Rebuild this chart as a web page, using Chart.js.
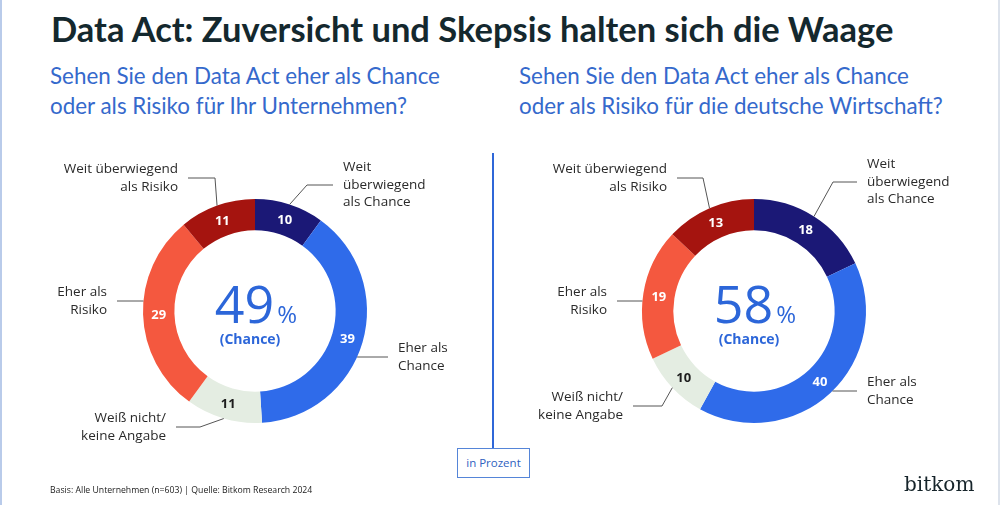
<!DOCTYPE html>
<html>
<head>
<meta charset="utf-8">
<script src="https://cdn.jsdelivr.net/npm/chart.js@4.4.1/dist/chart.umd.min.js"></script>
<style>
  html, body { margin: 0; padding: 0; }
  body { width: 1000px; height: 505px; position: relative; overflow: hidden; background: #fff; font-family: Lato, "Open Sans", sans-serif; }
  #frameL { position: absolute; left: 0; top: 0; width: 2px; height: 505px; background: #b9cbea; }
  #frameR { position: absolute; right: 0; top: 0; width: 2px; height: 505px; background: #dde3ec; }
  #title { position: absolute; left: 51px; top: 9px; font-size: 34.5px; line-height: 40px; font-weight: 700; color: #14282e; white-space: nowrap; }
  .sub { position: absolute; top: 61px; font-size: 22.4px; line-height: 30px; color: #3569cc; white-space: nowrap; }
  #sub1 { left: 50px; }
  #sub2 { left: 519px; }
  canvas { position: absolute; top: 0; }
  #c1 { left: 0; }
  #c2 { left: 500px; }
  #divider { position: absolute; left: 492px; top: 153px; width: 2px; height: 295px; background: #2f67d8; }
  #unit { position: absolute; left: 457px; top: 448px; width: 71px; height: 28px; border: 1.5px solid #5585d8; box-sizing: content-box;
          font-family: "Open Sans", sans-serif; font-size: 11.5px; line-height: 28px; text-align: center; color: #2f62c0; background: #fff; }
  #foot { position: absolute; left: 50px; top: 484px; font-family: "Open Sans", sans-serif; font-size: 8.7px; color: #222; white-space: nowrap; }
  #logo { position: absolute; left: 904px; top: 472px; font-family: "DejaVu Serif", serif; font-size: 20px; color: #16242a; }
</style>
</head>
<body>
<div id="frameL"></div>
<div id="frameR"></div>
<div id="title">Data Act: Zuversicht und Skepsis halten sich die Waage</div>
<div class="sub" id="sub1">Sehen Sie den Data Act eher als Chance<br>oder als Risiko für Ihr Unternehmen?</div>
<div class="sub" id="sub2">Sehen Sie den Data Act eher als Chance<br>oder als Risiko für die deutsche Wirtschaft?</div>
<canvas id="c1" width="500" height="505"></canvas>
<canvas id="c2" width="500" height="505"></canvas>
<div id="divider"></div>
<div id="unit">in Prozent</div>
<div id="foot">Basis: Alle Unternehmen (n=603) | Quelle: Bitkom Research 2024</div>
<div id="logo">bitkom</div>

<script>
// categories, clockwise from 12 o'clock
const categories = ['Weit überwiegend als Chance', 'Eher als Chance', 'Weiß nicht/keine Angabe', 'Eher als Risiko', 'Weit überwiegend als Risiko'];
const labelLines = [['Weit', 'überwiegend', 'als Chance'], ['Eher als', 'Chance'], ['Weiß nicht/', 'keine Angabe'], ['Eher als', 'Risiko'], ['Weit überwiegend', 'als Risiko']];
const companyValues = [10, 39, 11, 29, 11];   // Ihr Unternehmen
const economyValues = [18, 40, 10, 19, 13];   // deutsche Wirtschaft
const centerCaption = '(Chance)';

const sliceColors = ['#1b1876', '#2f6bea', '#e4ede2', '#f4583f', '#a5140f'];
const valueColors = ['#fff', '#fff', '#1d1d1d', '#fff', '#fff'];
const centerBlue = '#2c66d9';

// label placement relative to the ring centre (dx, dy = text anchor / block middle, elbow = x of the bend)
const layoutLeft = [
  { align: 'left', dx: 88, dy: -126, elbow: 52 },
  { align: 'left', dx: 143, dy: 46 },
  { align: 'right', dx: -89, dy: 116, elbow: -55 },
  { align: 'right', dx: -148, dy: -10 },
  { align: 'right', dx: -77, dy: -133, elbow: -40 }
];
const layoutRight = [
  { align: 'left', dx: 113, dy: -129, elbow: 79 },
  { align: 'left', dx: 113, dy: 80 },
  { align: 'right', dx: -131, dy: 95, elbow: -92 },
  { align: 'right', dx: -147, dy: -10 },
  { align: 'right', dx: -87, dy: -133, elbow: -51 }
];

const LABEL_FONT = '13.5px "Open Sans"';
const LINE_H = 17.5;

const ringLabels = {
  id: 'ringLabels',
  afterDatasetsDraw(chart, args, opts) {
    const { ctx } = chart;
    const meta = chart.getDatasetMeta(0);
    const values = chart.data.datasets[0].data;
    const first = meta.data[0];
    const cx = first.x, cy = first.y, R = first.outerRadius;
    ctx.save();

    // values inside the ring
    ctx.font = 'bold 13px "Open Sans"';
    ctx.textAlign = 'center';
    ctx.textBaseline = 'middle';
    meta.data.forEach((arc, i) => {
      const p = arc.tooltipPosition();
      ctx.fillStyle = valueColors[i];
      ctx.fillText(String(values[i]), p.x, p.y + 1);
    });

    // centre: chance share
    const chance = values[0] + values[1];
    ctx.fillStyle = centerBlue;
    ctx.textBaseline = 'alphabetic';
    ctx.font = '52px "Open Sans"';
    const big = String(chance);
    const wBig = ctx.measureText(big).width;
    ctx.font = '24px "Open Sans"';
    const wPct = ctx.measureText('%').width;
    const x0 = cx + 1 - (wBig + 3 + wPct) / 2;
    ctx.textAlign = 'left';
    ctx.font = '52px "Open Sans"';
    ctx.fillText(big, x0, cy + 12);
    ctx.font = '24px "Open Sans"';
    ctx.fillText('%', x0 + wBig + 3, cy + 12);
    ctx.font = 'bold 14px "Open Sans"';
    ctx.textAlign = 'center';
    ctx.textBaseline = 'middle';
    ctx.fillText(centerCaption, cx - 5, cy + 29);

    // outside labels with leader lines
    ctx.font = LABEL_FONT;
    ctx.strokeStyle = '#555';
    ctx.lineWidth = 1;
    opts.layout.forEach((l, i) => {
      const lines = labelLines[i];
      const tx = cx + l.dx, ty = cy + l.dy;
      const top = ty - (lines.length - 1) * LINE_H / 2;
      ctx.fillStyle = '#2a2a2a';
      ctx.textAlign = l.align;
      ctx.textBaseline = 'middle';
      lines.forEach((s, k) => ctx.fillText(s, tx, top + k * LINE_H));

      const sx = l.align === 'left' ? tx - 10 : tx + 10;
      ctx.beginPath();
      ctx.moveTo(sx, ty);
      if (l.elbow !== undefined) {
        const arc = meta.data[i];
        const a = (arc.startAngle + arc.endAngle) / 2;
        ctx.lineTo(cx + l.elbow, ty);
        ctx.lineTo(cx + Math.cos(a) * R, cy + Math.sin(a) * R);
      } else {
        const side = l.align === 'left' ? 1 : -1;
        ctx.lineTo(cx + side * Math.sqrt(R * R - l.dy * l.dy), ty);
      }
      ctx.stroke();
    });
    ctx.restore();
  }
};

function makeDonut(id, values, layout, pad) {
  return new Chart(document.getElementById(id), {
    type: 'doughnut',
    data: {
      labels: categories,
      datasets: [{ data: values, backgroundColor: sliceColors, borderWidth: 0, hoverOffset: 0 }]
    },
    options: {
      responsive: false,
      animation: false,
      cutout: '72%',
      layout: { padding: pad },
      plugins: {
        legend: { display: false },
        tooltip: { enabled: false },
        ringLabels: { layout: layout }
      }
    },
    plugins: [ringLabels]
  });
}

document.fonts.load('13px "Open Sans"').then(() => document.fonts.load('bold 13px "Open Sans"')).finally(() => {
  // ring: outer radius 112, centres at (255,311) and (754,311)
  window.chart1 = makeDonut('c1', companyValues, layoutLeft, { left: 143, top: 199, right: 133, bottom: 82 });
  window.chart2 = makeDonut('c2', economyValues, layoutRight, { left: 142, top: 199, right: 134, bottom: 82 });
});
</script>
</body>
</html>
